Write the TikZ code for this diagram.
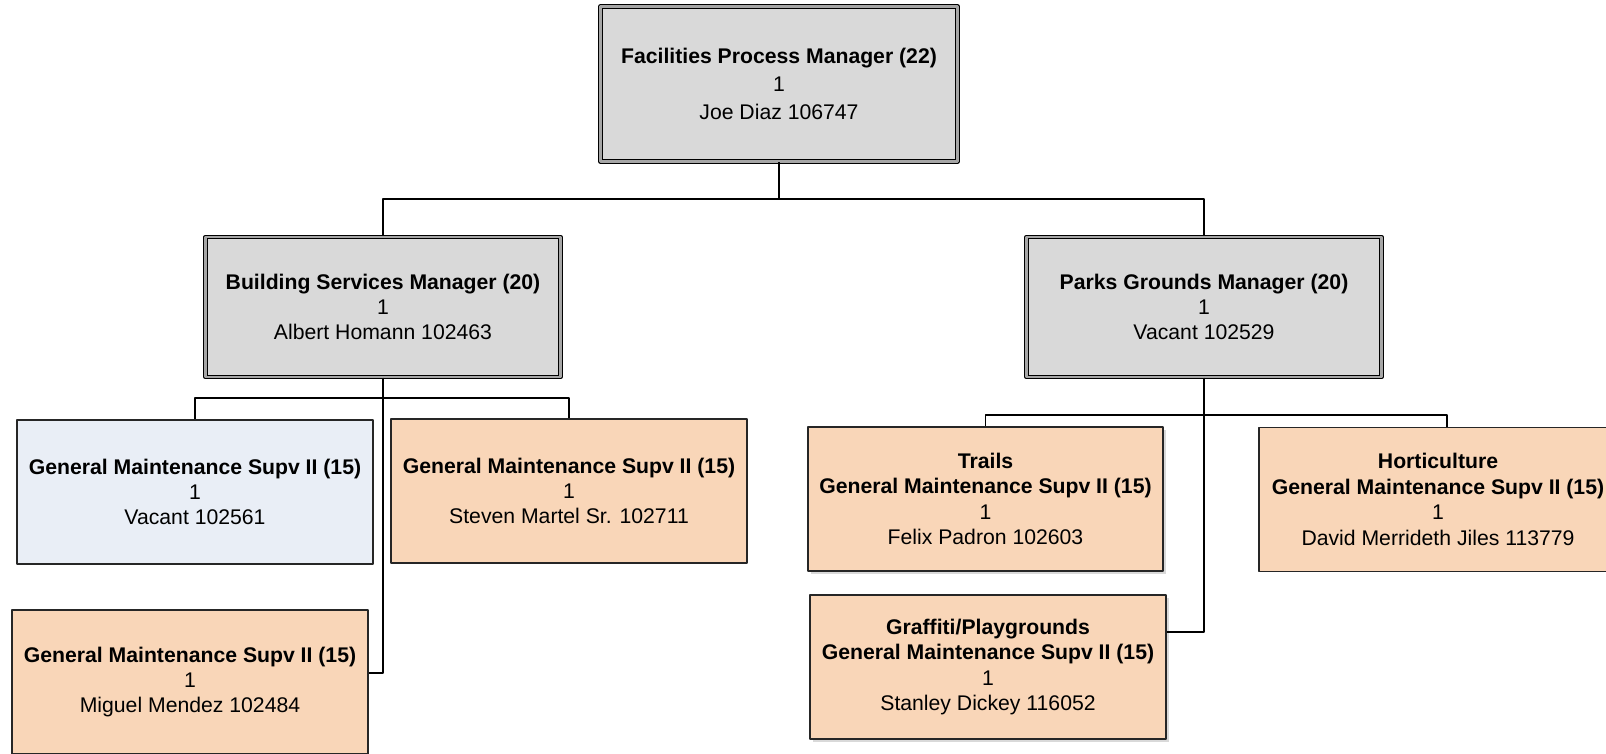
\documentclass[tikz,border=0pt]{standalone}
\usepackage{fontspec}
\setmainfont{Liberation Sans}
\usetikzlibrary{shadows}
\definecolor{mgrgray}{RGB}{217,217,217}
\definecolor{vacblue}{RGB}{233,238,246}
\definecolor{supvpeach}{RGB}{249,214,184}

\begin{document}
\begin{tikzpicture}[line cap=round,line join=round,x=0.5pt,y=-0.5pt,
  font=\fontsize{10.6pt}{12.7pt}\selectfont,
  mgrbox/.style={draw=black, double=gray!70, line width=0.6pt, double distance=1.2pt, fill=mgrgray, minimum width=178pt, minimum height=70pt, align=center, inner sep=0pt},
  supvbox/.style={draw=black!85, line width=0.75pt, fill=supvpeach, minimum width=178pt, minimum height=72pt, align=center, inner sep=0pt},
  vacbox/.style={supvbox, fill=vacblue},
  shadowed/.style={drop shadow={shadow xshift=1.5pt, shadow yshift=-1.5pt, fill=black!15, opacity=1}},
  link/.style={line width=0.6pt, line cap=butt}]
\clip (0,0) rectangle (1606,754);
% managers
\node[mgrbox, minimum width=178.5pt, minimum height=77.5pt, font=\fontsize{10.6pt}{13.8pt}\selectfont] (fpm) at (779,84) {\textbf{Facilities Process Manager (22)}\\1\\Joe Diaz 106747};
\node[mgrbox, minimum width=177.5pt] (bsm) at (383,307) {\textbf{Building Services Manager (20)}\\1\\Albert Homann 102463};
\node[mgrbox, minimum width=177.5pt] (pgm) at (1204,307) {\textbf{Parks Grounds Manager (20)}\\1\\Vacant 102529};
% building services
\node[vacbox] (gms1) at (195,492) {\textbf{General Maintenance Supv II (15)}\\1\\Vacant 102561};
\node[supvbox] (gms2) at (569,491) {\textbf{General Maintenance Supv II (15)}\\1\\Steven Martel Sr. 102711};
\node[supvbox] (gms3) at (190,682) {\textbf{General Maintenance Supv II (15)}\\1\\Miguel Mendez 102484};
% parks grounds
\node[supvbox, shadowed, minimum width=177.5pt] (trails) at (985.5,499) {\textbf{Trails}\\\textbf{General Maintenance Supv II (15)}\\1\\Felix Padron 102603};
\node[supvbox, shadowed] (graf) at (988,667) {\textbf{Graffiti/Playgrounds}\\\textbf{General Maintenance Supv II (15)}\\1\\Stanley Dickey 116052};
\node[supvbox, minimum width=179pt] (hort) at (1438,499.5) {\textbf{Horticulture}\\\textbf{General Maintenance Supv II (15)}\\1\\David Merrideth Jiles 113779};
% connectors
\coordinate (fork1) at (779,199);
\coordinate (fork2) at (383,398);
\coordinate (fork3) at (1204,415);
\draw[link] (fpm) -- (fork1) -| (bsm);
\draw[link] (fork1) -| (pgm);
\draw[link] (bsm) -- (fork2) -| (gms1);
\draw[link] (fork2) -| (gms2);
\draw[link] (fork2) |- ([yshift=4.5pt]gms3.east);
\draw[link] (pgm) -- (fork3) -| (trails);
\draw[link] (fork3) -| ([xshift=4.5pt]hort.north);
\draw[link] (fork3) |- ([yshift=17.5pt]graf.east);
\end{tikzpicture}
\end{document}
